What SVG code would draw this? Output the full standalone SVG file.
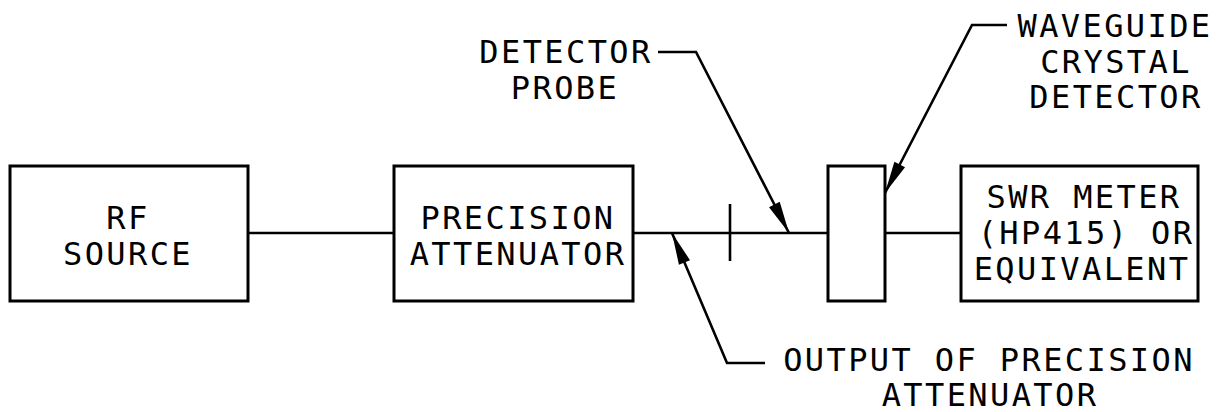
<svg xmlns="http://www.w3.org/2000/svg" width="1216" height="412" viewBox="0 0 1216 412">
  <style>
    .box { fill: #fff; stroke: #000; stroke-width: 3; }
    .wire { fill: none; stroke: #000; stroke-width: 2.6; }
    .lead { fill: none; stroke: #000; stroke-width: 2.6; stroke-linejoin: miter; }
    text { font-family: "DejaVu Sans Mono", "Liberation Mono", monospace; font-size: 32px; letter-spacing: 2.4px; fill: #000; text-anchor: middle; }
  </style>
  <defs>
    <marker id="arrow" markerUnits="userSpaceOnUse" markerWidth="40" markerHeight="20" viewBox="-36 -10 38 20" refX="0" refY="0" orient="auto">
      <path d="M0,0 L-32,-6 L-32,6 Z" fill="#000"/>
    </marker>
  </defs>
  <rect width="1216" height="412" fill="#fff"/>

  <g id="connectors">
    <line class="wire" x1="248" y1="233" x2="394" y2="233"/>
    <line class="wire" x1="633" y1="233" x2="828" y2="233"/>
    <line class="wire" x1="885" y1="233" x2="961" y2="233"/>
    <line class="wire" x1="730" y1="204" x2="730" y2="261"/>
    <polyline class="lead" points="658,52 696,52 789,233" marker-end="url(#arrow)"/>
    <polyline class="lead" points="1007,25 972,25 885,193" marker-end="url(#arrow)"/>
    <polyline class="lead" points="765,363 727,363 672,233" marker-end="url(#arrow)"/>
  </g>

  <g id="rf-source">
    <rect class="box" x="10" y="166" width="238" height="135"/>
    <text x="128" y="229">RF</text>
    <text x="128" y="265">SOURCE</text>
  </g>

  <g id="precision-attenuator">
    <rect class="box" x="394" y="166" width="239" height="135"/>
    <text x="518" y="229">PRECISION</text>
    <text x="518" y="265">ATTENUATOR</text>
  </g>

  <g id="waveguide-crystal-detector">
    <rect class="box" x="828" y="166" width="57" height="135"/>
  </g>

  <g id="swr-meter">
    <rect class="box" x="961" y="166" width="237" height="135"/>
    <text x="1084" y="208">SWR METER</text>
    <text x="1086" y="244">(HP415) OR</text>
    <text x="1082" y="280">EQUIVALENT</text>
  </g>

  <g id="label-detector-probe">
    <text x="566" y="63">DETECTOR</text>
    <text x="565" y="99">PROBE</text>
  </g>

  <g id="label-waveguide">
    <text x="1115" y="37">WAVEGUIDE</text>
    <text x="1116" y="73">CRYSTAL</text>
    <text x="1116" y="108">DETECTOR</text>
  </g>

  <g id="label-output">
    <text x="989" y="371">OUTPUT OF PRECISION</text>
    <text x="990" y="406">ATTENUATOR</text>
  </g>
</svg>
